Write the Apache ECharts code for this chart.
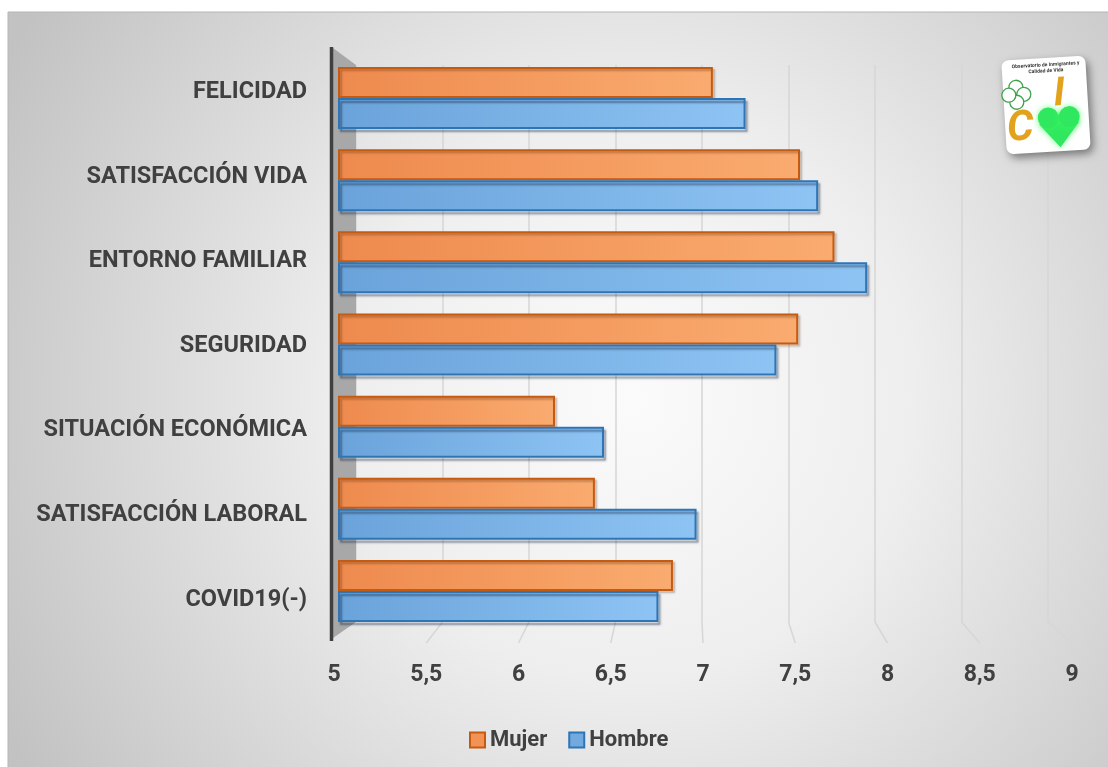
<!DOCTYPE html>
<html><head><meta charset="utf-8">
<script src="https://cdn.jsdelivr.net/npm/echarts@6/dist/echarts.min.js"></script>
<style>html,body{margin:0;padding:0;background:#fff;} #c{width:1108px;height:767px;}</style>
</head><body><div id="c"></div>
<script>
const categories = ['FELICIDAD','SATISFACCIÓN VIDA','ENTORNO FAMILIAR','SEGURIDAD','SITUACIÓN ECONÓMICA','SATISFACCIÓN LABORAL','COVID19(-)'];
const mujer  = [7.06, 7.54, 7.73, 7.53, 6.19, 6.41, 6.84];
const hombre = [7.24, 7.64, 7.91, 7.41, 6.46, 6.97, 6.76];
const seriesNames = ['Mujer', 'Hombre'];
const tickValues = [5, 5.5, 6, 6.5, 7, 7.5, 8, 8.5, 9];
const logoTitle = 'Observatorio de Inmigrantes y\nCalidad de Vida';

const FONT = 'Roboto';
const TXT = '#404040';
const chart = echarts.init(document.getElementById('c'), null, {renderer: 'canvas'});

function hGrad(a, b) {
  return new echarts.graphic.LinearGradient(0, 0, 1, 0, [{offset: 0, color: a}, {offset: 1, color: b}]);
}

const option = {
  animation: false,
  grid: [
    {left: 339, top: 57, width: 726, height: 575},
    {left: 356, top: 65, width: 692, height: 557},
    {left: 334, top: 600, width: 738, height: 43},
    {left: 339, top: 50, width: 726, height: 592}
  ],
  xAxis: [
    {gridIndex: 0, type: 'value', min: 5, max: 9, interval: 0.5, show: false},
    {gridIndex: 1, type: 'value', min: 5, max: 9, interval: 0.5,
      axisLine: {show: false}, axisTick: {show: false}, axisLabel: {show: false},
      splitLine: {show: true, lineStyle: {color: '#d6d6d6', width: 1.5}}},
    {gridIndex: 2, type: 'value', min: 5, max: 9, interval: 0.5,
      axisLine: {show: false}, axisTick: {show: false}, splitLine: {show: false},
      axisLabel: {margin: 21, fontSize: 23, fontWeight: 'bold', color: TXT, fontFamily: FONT,
        showMinLabel: true, showMaxLabel: true,
        formatter: v => String(v).replace('.', ',')}},
    {gridIndex: 3, type: 'value', min: 5, max: 9, show: false}
  ],
  yAxis: [
    {gridIndex: 0, type: 'category', data: categories, inverse: true, show: false},
    {gridIndex: 1, type: 'value', min: 0, max: 1, show: false},
    {gridIndex: 2, type: 'value', min: 0, max: 1, show: false},
    {gridIndex: 3, type: 'category', data: categories, inverse: true,
      axisLine: {show: false}, axisTick: {show: false}, splitLine: {show: false},
      axisLabel: {margin: 32, fontSize: 23.5, fontWeight: 'bold', color: TXT, fontFamily: FONT}}
  ],
  legend: {
    left: 464, top: 724, itemWidth: 15, itemHeight: 15, itemGap: 21, icon: 'rect',
    textStyle: {fontSize: 22, fontWeight: 'bold', color: TXT, fontFamily: FONT},
    data: [
      {name: seriesNames[0], itemStyle: {color: '#f29355', borderColor: '#c55a11', borderWidth: 2, shadowBlur: 0}},
      {name: seriesNames[1], itemStyle: {color: '#72a9de', borderColor: '#2e75b6', borderWidth: 2, shadowBlur: 0}}
    ]
  },
  series: [
    {type: 'bar', name: seriesNames[0], xAxisIndex: 0, yAxisIndex: 0, data: mujer,
      barWidth: 31, barGap: '0%',
      itemStyle: {color: hGrad('#ee8a4e', '#faab6f'), borderColor: '#c55a11', borderWidth: 2,
        shadowColor: 'rgba(80,40,10,0.35)', shadowBlur: 2, shadowOffsetX: 2, shadowOffsetY: 2}},
    {type: 'bar', name: seriesNames[1], xAxisIndex: 0, yAxisIndex: 0, data: hombre,
      barWidth: 31, barGap: '0%',
      itemStyle: {color: hGrad('#6aa3da', '#8ec4f4'), borderColor: '#2e75b6', borderWidth: 2,
        shadowColor: 'rgba(20,40,70,0.5)', shadowBlur: 2, shadowOffsetX: 2, shadowOffsetY: 3}}
  ]
};
chart.setOption(option);

// Decorations derived from axes
const xb = v => chart.convertToPixel({xAxisIndex: 1}, v);
const xf = v => chart.convertToPixel({xAxisIndex: 2}, v);
const yBackBottom = chart.convertToPixel({yAxisIndex: 1}, 0);
const yBackTop = chart.convertToPixel({yAxisIndex: 1}, 1);
const yFront = chart.convertToPixel({yAxisIndex: 2}, 0);

const graphics = [];
graphics.push({
  type: 'rect', z: -100, silent: true,
  shape: {x: 8, y: 12, width: 1110, height: 770},
  style: {
    fill: {type: 'radial', x: 0.56, y: 0.5, r: 0.92, colorStops: [
      {offset: 0, color: '#fbfbfb'}, {offset: 0.4, color: '#eeeeee'}, {offset: 1, color: '#c2c2c2'}]},
    stroke: '#b5b5b5', lineWidth: 1
  }
});
tickValues.slice(1).forEach(v => {
  graphics.push({type: 'line', z: 1, silent: true,
    shape: {x1: xb(v), y1: yBackBottom, x2: xf(v), y2: yFront},
    style: {stroke: '#d6d6d6', lineWidth: 1.5}});
});
const wx = xf(tickValues[0]) - 1;
graphics.push({type: 'polygon', z: 1, silent: true,
  shape: {points: [[wx, yBackTop - 17], [xb(tickValues[0]), yBackTop], [xb(tickValues[0]), yBackBottom], [wx, yFront - 5]]},
  style: {fill: '#a8a8a8'}});
graphics.push({type: 'line', z: 1, silent: true,
  shape: {x1: wx - 1.5, y1: yBackTop - 18, x2: wx - 1.5, y2: yFront - 2},
  style: {stroke: '#404040', lineWidth: 3.5}});

// Logo
const leaf = (dx, dy) => ({type: 'circle', shape: {cx: -29 + dx, cy: -12 + dy, r: 7},
  style: {fill: '#fff', stroke: '#3fa34d', lineWidth: 1.3}});
const heartStyle = {fill: '#2fe85f', shadowBlur: 6, shadowColor: 'rgba(60,255,90,0.7)'};
graphics.push({
  type: 'group', x: 1046, y: 105, rotation: 0.06, z: 5,
  children: [
    {type: 'rect', shape: {x: -42, y: -47, width: 84, height: 94, r: 7},
      style: {fill: '#ffffff', shadowBlur: 8, shadowColor: 'rgba(0,0,0,0.45)', shadowOffsetX: 3, shadowOffsetY: 4}},
    {type: 'text', x: 2, y: -43, style: {text: logoTitle, font: 'bold 5px Roboto', fill: '#333', align: 'center', verticalAlign: 'top', lineHeight: 6}},
    leaf(0, -7.5), leaf(7.5, 0), leaf(0, 7.5), leaf(-7.5, 0),
    {type: 'text', x: 14, y: -9, style: {text: 'I', font: 'italic bold 40px Roboto', fill: '#e2a21c', align: 'center', verticalAlign: 'middle', shadowBlur: 5, shadowColor: 'rgba(120,255,80,0.6)'}},
    {type: 'text', x: -27, y: 23, style: {text: 'C', font: 'italic bold 42px Roboto', fill: '#e2a21c', align: 'center', verticalAlign: 'middle', shadowBlur: 5, shadowColor: 'rgba(120,255,80,0.6)'}},
    {type: 'group', children: [
      {type: 'polygon', shape: {points: [[-8, 19], [12, 10], [32, 19], [12, 43]]}, style: heartStyle},
      {type: 'circle', shape: {cx: 1.5, cy: 13, r: 10.5}, style: heartStyle},
      {type: 'circle', shape: {cx: 22.5, cy: 13, r: 10.5}, style: heartStyle}
    ]}
  ]
});
chart.setOption({graphic: graphics});
</script>
</body></html>
